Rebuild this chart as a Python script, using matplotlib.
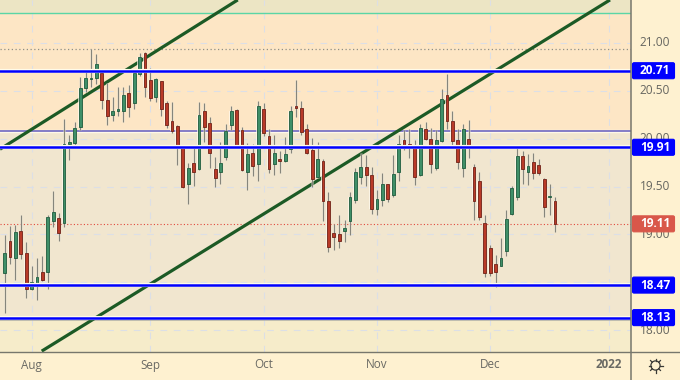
import numpy as np
import matplotlib
matplotlib.use("Agg")
import matplotlib.pyplot as plt
from matplotlib.patches import FancyBboxPatch, Circle

# ---------------------- data ----------------------
opens = [18.60, 18.93, 18.75, 19.04, 18.81, 18.43, 18.47, 18.61, 18.61, 19.14, 19.17, 19.12, 19.94,
         19.95, 20.12, 20.53, 20.62, 20.63, 20.69, 20.40, 20.25, 20.29, 20.29, 20.48, 20.37, 20.68,
         20.90, 20.61, 20.44, 20.60, 20.37, 20.18, 20.13, 19.92, 19.53, 19.75, 19.68, 20.29, 20.16,
         19.68, 19.65, 19.81, 20.14, 20.30, 20.09, 19.65, 19.85, 19.74, 20.31, 20.03, 19.74, 19.79,
         19.77, 19.89, 20.34, 20.32, 20.10, 19.88, 19.60, 19.77, 19.35, 19.01, 19.00, 19.03, 19.14,
         19.36, 19.60, 19.70, 19.62, 19.27, 19.36, 19.53, 19.41, 19.65, 19.99, 19.94, 19.91, 19.62,
         20.10, 20.00, 19.69, 19.98, 20.46, 20.18, 19.99, 19.69, 20.00, 19.70, 19.56, 19.12, 18.86,
         18.69, 18.67, 18.83, 19.21, 19.39, 19.82, 19.65, 19.76, 19.72, 19.58, 19.39, 19.35]
highs = [18.99, 19.09, 19.10, 19.20, 18.92, 18.67, 18.75, 18.77, 19.20, 19.45, 19.22, 20.21, 20.04,
         20.17, 20.64, 20.73, 20.94, 20.88, 20.70, 20.58, 20.44, 20.54, 20.54, 20.56, 20.72, 20.90,
         20.91, 20.74, 20.63, 20.60, 20.39, 20.38, 20.14, 19.92, 19.75, 19.90, 20.38, 20.37, 20.23,
         19.81, 19.97, 20.15, 20.34, 20.31, 20.12, 19.95, 19.94, 20.39, 20.37, 20.10, 20.04, 19.87,
         20.02, 20.34, 20.61, 20.39, 20.15, 20.01, 19.97, 19.79, 19.44, 19.11, 19.20, 19.15, 19.44,
         19.69, 19.85, 19.83, 19.70, 19.46, 19.64, 19.53, 19.83, 20.04, 20.09, 20.10, 19.99, 20.15,
         20.17, 20.11, 20.09, 20.52, 20.68, 20.29, 20.10, 20.15, 20.20, 19.74, 19.65, 19.20, 18.89,
         18.78, 18.96, 19.25, 19.51, 19.90, 19.87, 19.84, 19.85, 19.79, 19.59, 19.53, 19.39]
lows = [18.18, 18.69, 18.52, 18.74, 18.33, 18.42, 18.31, 18.51, 18.43, 19.08, 18.93, 19.08, 19.78,
        19.90, 20.09, 20.49, 20.54, 20.57, 20.31, 20.14, 20.18, 20.24, 20.17, 20.23, 20.31, 20.66,
        20.44, 20.39, 20.38, 20.24, 20.11, 20.06, 19.73, 19.48, 19.32, 19.51, 19.67, 19.96, 19.69,
        19.50, 19.53, 19.78, 20.09, 19.91, 19.66, 19.46, 19.61, 19.56, 20.03, 19.64, 19.62, 19.64,
        19.76, 19.85, 20.23, 20.04, 19.84, 19.49, 19.59, 19.14, 18.82, 18.84, 18.86, 18.92, 18.99,
        19.33, 19.53, 19.51, 19.21, 19.20, 19.30, 19.34, 19.39, 19.56, 19.88, 19.80, 19.52, 19.61,
        19.99, 19.64, 19.67, 19.96, 20.10, 19.90, 19.68, 19.60, 19.80, 19.15, 19.15, 18.55, 18.56,
        18.45, 18.67, 18.77, 19.20, 19.36, 19.53, 19.52, 19.58, 19.62, 19.18, 19.20, 19.02]
closes = [18.81, 18.76, 19.02, 18.79, 18.43, 18.50, 18.55, 18.52, 19.18, 19.23, 19.01, 19.94, 19.96,
          20.11, 20.53, 20.63, 20.63, 20.78, 20.40, 20.24, 20.29, 20.31, 20.46, 20.33, 20.69, 20.85,
          20.54, 20.43, 20.62, 20.31, 20.14, 20.08, 19.92, 19.50, 19.69, 19.65, 20.25, 20.12, 19.85,
          19.59, 19.75, 20.08, 20.29, 19.93, 19.67, 19.84, 19.71, 20.34, 20.06, 19.68, 19.85, 19.77,
          19.84, 20.29, 20.32, 20.07, 19.85, 19.58, 19.79, 19.35, 18.87, 18.97, 18.93, 19.07, 19.39,
          19.65, 19.70, 19.62, 19.26, 19.37, 19.53, 19.37, 19.63, 19.94, 19.91, 19.90, 19.60, 20.11,
          20.00, 19.74, 19.99, 20.41, 20.18, 19.98, 19.76, 20.10, 19.92, 19.35, 19.18, 18.60, 18.60,
          18.61, 18.75, 19.16, 19.48, 19.82, 19.68, 19.71, 19.64, 19.64, 19.29, 19.40, 19.11]

month_labels = ["Aug", "Sep", "Oct", "Nov", "Dec", "2022"]
month_idx = [5, 27, 48, 69, 90, 112]
price_ticks = [18.00, 18.50, 19.00, 19.50, 20.00, 20.50, 21.00]

blue_levels = [20.71, 19.91, 18.47, 18.13]
last_price = 19.11
green_level = 21.31
purple_level = 20.08
gray_level = 18.10
dotted_level = 20.94

# trend lines: bar index / price at both ends
trend1_x = [-0.87, 43.2]
trend1_y = [19.89, 21.45]
trend2_x = [6.86, 112.2]
trend2_y = [17.78, 21.45]

W, H = 680, 380
PLOT_R, PLOT_B = 631, 351.5
Y_TOP, Y_BOT = 21.449, 17.776
X_LEFT, X_RIGHT = -0.871, 116.09

BG = "#fef1d0"
GREEN_BODY, GREEN_EDGE = "#3f8f68", "#1d5a3b"
RED_BODY, RED_EDGE = "#b93a28", "#6e1f14"


def price_px(p):
    return (Y_TOP - p) * PLOT_B / (Y_TOP - Y_BOT)


# ---------------------- figure ----------------------
plt.rcParams["font.family"] = ["Open Sans", "DejaVu Sans"]
fig = plt.figure(figsize=(W / 100, H / 100), dpi=100, facecolor=BG)

# overlay in pixel coordinates for the right hand price boxes and the icon
over = fig.add_axes([0, 0, 1, 1], zorder=5)
over.set_xlim(0, W)
over.set_ylim(H, 0)
over.axis("off")

ax = fig.add_axes([0, 1 - PLOT_B / H, PLOT_R / W, PLOT_B / H], zorder=3)
ax.set_xlim(X_LEFT, X_RIGHT)
ax.set_ylim(Y_BOT, Y_TOP)
for s in ax.spines.values():
    s.set_visible(False)
ax.set_xticks([])
ax.set_yticks([])

# zones
ax.axhspan(green_level, Y_TOP, color="#ece5c4", lw=0, zorder=0)
ax.axhspan(purple_level, green_level, color="#fde6c5", lw=0, zorder=0)
ax.axhspan(gray_level, purple_level, color="#f1e6cf", lw=0, zorder=0)
ax.axhspan(Y_BOT, gray_level, color="#f6ecca", lw=0, zorder=0)

# grid
for p in price_ticks:
    ax.axhline(p, color="#dcdfe6", lw=0.8, dashes=(6, 6), zorder=1)
for i in month_idx:
    ax.axvline(i, color="#dcdfe6", lw=0.8, dashes=(6, 6), zorder=1)

# level lines under the candles
ax.axhline(green_level, color="#5ad6a6", lw=1.0, zorder=2)
ax.axhline(purple_level, color="#fff8e8", lw=2.4, zorder=2)
ax.axhline(purple_level, color="#7a72c4", lw=1.3, zorder=2)
ax.axhline(gray_level, color="#a9a9a2", lw=1.1, zorder=2)
ax.axhline(dotted_level, color="#8f8f86", lw=0.9, ls=(0, (1, 2)), zorder=2)
ax.axhline(last_price, color="#e0483c", lw=0.8, ls=(0, (1, 2)), zorder=2)

# trend lines
ax.plot(trend1_x, trend1_y, color="#1c5a25", lw=2.3, zorder=3, solid_capstyle="butt")
ax.plot(trend2_x, trend2_y, color="#1c5a25", lw=2.3, zorder=3, solid_capstyle="butt")

# candles
x = np.arange(len(opens))
o, h, l, c = map(np.array, (opens, highs, lows, closes))
up = c >= o
body_lo = np.minimum(o, c)
body_hi = np.maximum(o, c)
ax.vlines(x, l, h, color="#fff8e8", lw=1.8, alpha=0.5, zorder=4)
ax.vlines(x, l, h, color="#85857c", lw=0.9, zorder=5)
ax.bar(x, body_hi - body_lo, bottom=body_lo, width=0.8, color="#fffaf0", alpha=0.7, lw=0, zorder=5)
ax.bar(x[up], (body_hi - body_lo)[up], bottom=body_lo[up], width=0.52,
       color=GREEN_BODY, edgecolor=GREEN_EDGE, lw=0.6, zorder=6)
ax.bar(x[~up], (body_hi - body_lo)[~up], bottom=body_lo[~up], width=0.52,
       color=RED_BODY, edgecolor=RED_EDGE, lw=0.6, zorder=6)

# blue levels above the candles
for p in blue_levels:
    ax.axhline(p, color="#fffbe9", lw=3.0, zorder=7)
    ax.axhline(p, color="#0000ff", lw=1.8, zorder=8)

# axis lines
over.plot([PLOT_R, PLOT_R], [0, H], color="#77776c", lw=1.1)
over.plot([0, W], [PLOT_B, PLOT_B], color="#77776c", lw=1.0)

# price axis labels
for p in price_ticks:
    if p == 18.50:
        continue  # sits under the 18.47 box
    over.text(655, price_px(p), f"{p:.2f}", ha="center", va="center", fontsize=8.6,
              color="#666660", zorder=2)

# value boxes
def value_box(p, color):
    yc = price_px(p)
    over.add_patch(FancyBboxPatch((632.5, yc - 8), 42, 16, boxstyle="round,pad=0,rounding_size=1.5",
                                  fc=color, ec=color, lw=0.8, zorder=3))
    over.text(655, yc, f"{p:.2f}", ha="center", va="center", fontsize=8.6, fontweight="bold",
              color="white", zorder=4)


for p in blue_levels:
    value_box(p, "#0000ff")
value_box(last_price, "#d9574a")

# month labels
for name, i in zip(month_labels, month_idx):
    px = (i - X_LEFT) / (X_RIGHT - X_LEFT) * PLOT_R
    over.text(px, 365, name, ha="center", va="center", fontsize=8.4, color="#6a6a64",
              fontweight="bold" if name == "2022" else "normal")

# settings icon
over.add_patch(Circle((655.5, 365.5), 4.6, fc="none", ec="#3a3a36", lw=0.9))
for a in np.arange(8) * np.pi / 4:
    over.plot([655.5 + 4.6 * np.cos(a), 655.5 + 7.0 * np.cos(a)],
              [365.5 + 4.6 * np.sin(a), 365.5 + 7.0 * np.sin(a)], color="#3a3a36", lw=0.9)

fig.savefig("out.png", dpi=100, facecolor=BG)
